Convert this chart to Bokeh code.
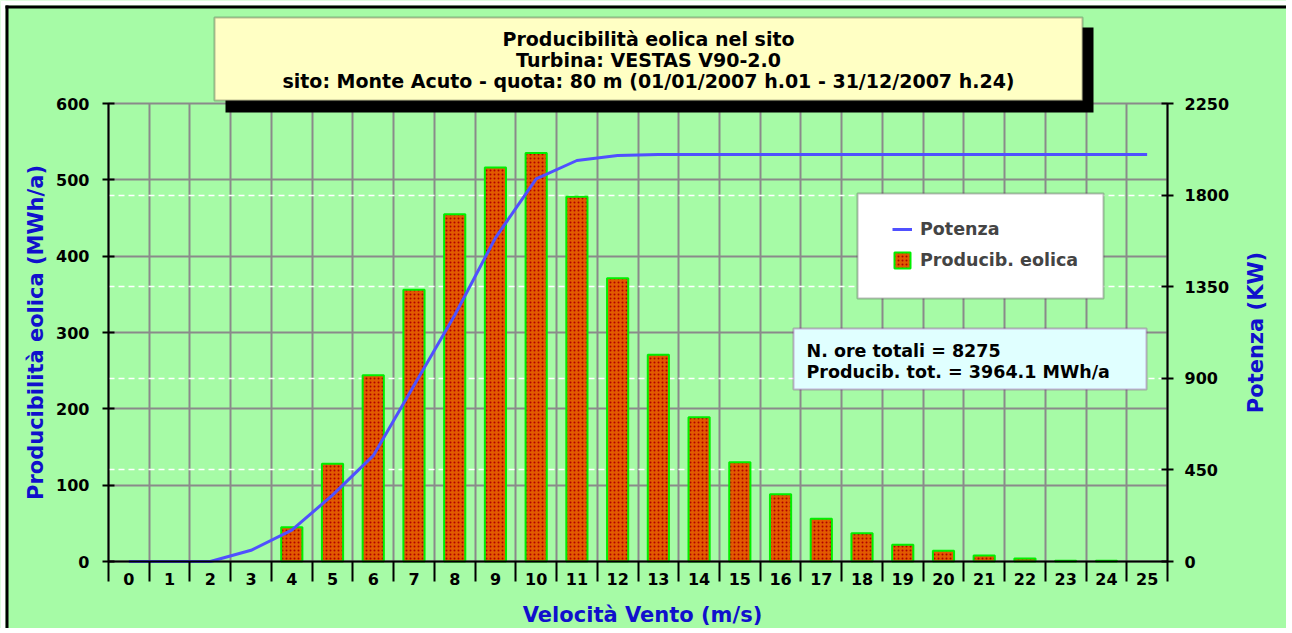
import math
from bokeh.plotting import figure
from bokeh.models import (Range1d, LinearAxis, FixedTicker, Grid, BoxAnnotation,
                          Label, Legend, LegendItem, ColumnDataSource)
from bokeh.embed import file_html
from bokeh.resources import INLINE

# ---------------- data ----------------
wind_speed = list(range(26))
energy_mwh = [0, 0, 0, 0, 45, 128, 244, 356, 455, 516, 535, 478, 371, 271, 189,
              130, 88, 56, 37, 22, 14, 8, 4, 1, 1, 0]
power_kw = [0, 0, 0, 55, 154, 326, 520, 865, 1210, 1590, 1880, 1970, 1994, 2000,
            2000, 2000, 2000, 2000, 2000, 2000, 2000, 2000, 2000, 2000, 2000, 2000]
left_ticks = [0, 100, 200, 300, 400, 500, 600]
right_ticks = [0, 450, 900, 1350, 1800, 2250]

title_lines = ["Producibilità eolica nel sito",
               "Turbina: VESTAS V90-2.0",
               "sito: Monte Acuto - quota: 80 m (01/01/2007 h.01 - 31/12/2007 h.24)"]
info_lines = ["N. ore totali = 8275", "Producib. tot. = 3964.1 MWh/a"]
x_label = "Velocità Vento (m/s)"
y_label = "Producibilità eolica (MWh/a)"
y2_label = "Potenza (KW)"
legend_labels = ["Potenza", "Producib. eolica"]

# ---------------- style / geometry ----------------
GREEN = "#a6fba6"
GRID = "#8a8a8a"
AXBLUE = "#1010cc"
LINEBLUE = "#5050ff"
FONT = "DejaVu Sans"

W, H = 1286, 628
PL, PR, PT, PB = 108, 1167, 103, 561          # plot area in page pixels
X0, X1 = -0.5, 25.5
Y0, Y1 = left_ticks[0], left_ticks[-1]
R1 = right_ticks[-1]
kx = (PR - PL) / (X1 - X0)
ky = (PB - PT) / (Y1 - Y0)

x_range = Range1d(X0 - PL / kx, X1 + (W - PR) / kx)
y_range = Range1d(Y0 - (H - PB) / ky, Y1 + PT / ky)
scale_r = R1 / (Y1 - Y0)
pow_range = Range1d(y_range.start * scale_r, y_range.end * scale_r)

p = figure(width=W, height=H, x_range=x_range, y_range=y_range,
           output_backend="svg", toolbar_location=None,
           min_border_left=0, min_border_right=0, min_border_top=0, min_border_bottom=0,
           background_fill_color=GREEN, border_fill_color=GREEN, outline_line_color=None)
p.extra_y_ranges = {"pow": pow_range}


def sx(px):
    return px


def sy(py):
    return H - py


def rect(l, t, r, b, fill, level="image", lc=None, lw=2):
    return BoxAnnotation(left=sx(l), right=sx(r), top=sy(t), bottom=sy(b),
                         left_units="screen", right_units="screen",
                         top_units="screen", bottom_units="screen",
                         fill_color=fill, fill_alpha=1, line_color=lc, line_width=lw,
                         level=level)


# white margin and black top/left frame line
p.add_layout(rect(0, 0, W, 5, "white"))
p.add_layout(rect(0, 0, 5, H, "white"))
p.add_layout(rect(5, 5, W, 8, "black"))
p.add_layout(rect(5, 5, 8, H, "black"))

# x axis: labels at integers, ticks/grid at bin boundaries
xt = FixedTicker(ticks=wind_speed,
                 minor_ticks=[w - 0.5 for w in wind_speed] + [wind_speed[-1] + 0.5])
ax = p.xaxis[0]
ax.ticker = xt
ax.fixed_location = Y0
ax.bounds = (X0, X1)
p.xgrid.ticker = xt
p.xgrid.grid_line_color = None
p.xgrid.minor_grid_line_color = GRID
p.xgrid.minor_grid_line_width = 2
p.xgrid.cross_bounds = (Y0, Y1)
ax.major_tick_line_color = None
ax.major_tick_out = 0
ax.major_tick_in = 0
ax.minor_tick_line_color = "black"
ax.minor_tick_line_width = 2
ax.minor_tick_out = 20
ax.minor_tick_in = 0
ax.major_label_standoff = -9

# left axis
yt = FixedTicker(ticks=left_ticks, minor_ticks=[])
ay = p.yaxis[0]
ay.ticker = yt
ay.fixed_location = X0
ay.bounds = (Y0, Y1)
p.ygrid.ticker = yt
p.ygrid.grid_line_color = GRID
p.ygrid.grid_line_width = 2
p.ygrid.cross_bounds = (X0, X1)
ay.major_tick_in = 6
ay.major_tick_out = 6
ay.major_label_standoff = 13

# right axis
rt = FixedTicker(ticks=right_ticks, minor_ticks=[])
ar = LinearAxis(y_range_name="pow", ticker=rt, fixed_location=X1, bounds=(0, R1))
ar.major_tick_in = 6
ar.major_tick_out = 6
ar.major_label_standoff = 11
p.add_layout(ar, "right")
g2 = Grid(dimension=1, y_range_name="pow", ticker=FixedTicker(ticks=right_ticks[1:-1]),
          grid_line_color="white", grid_line_dash="6 4", grid_line_width=1.5,
          cross_bounds=(X0, X1))
p.add_layout(g2)

for a in (ax, ay, ar):
    a.axis_line_color = "black"
    a.axis_line_width = 2
    a.major_tick_line_width = 2
    a.major_label_text_font = FONT
    a.major_label_text_font_style = "bold"
    a.major_label_text_font_size = "16px"
    a.major_label_text_color = "black"
ay.minor_tick_line_color = None
ar.minor_tick_line_color = None

# ---------------- glyphs ----------------
idx = [i for i, e in enumerate(energy_mwh) if e > 0]
bar_src = ColumnDataSource(dict(x=[wind_speed[i] for i in idx], top=[energy_mwh[i] for i in idx]))
bars = p.vbar(x="x", top="top", bottom=0, width=0.52, source=bar_src,
              fill_color="#e25a00", line_color="#00f000", line_width=2,
              hatch_pattern="dot", hatch_color="#b00000", hatch_scale=4, hatch_weight=1.5)
line = p.line(wind_speed, power_kw, y_range_name="pow", line_color=LINEBLUE, line_width=3)


# ---------------- annotations ----------------
def lab(text, px, py, size, align="center", color="black", angle=0.0):
    return Label(x=sx(px), y=sy(py), x_units="screen", y_units="screen", text=text,
                 text_align=align, text_baseline="middle", text_font=FONT, angle=angle,
                 text_font_style="bold", text_font_size=f"{size}px", text_color=color)


# axis titles
p.add_layout(lab(x_label, 642, 614, 21, color=AXBLUE))
p.add_layout(lab(y_label, 35, 332, 21, color=AXBLUE, angle=math.pi / 2))
p.add_layout(lab(y2_label, 1255, 332, 21, color=AXBLUE, angle=math.pi / 2))

# title box with shadow
p.add_layout(rect(225, 27, 1093, 112, "black", level="annotation"))
p.add_layout(rect(214, 17, 1082, 100, "#ffffc4", level="annotation", lc="#222222"))
for t, yy in zip(title_lines, [38, 59, 80]):
    p.add_layout(lab(t, 648, yy, 19))

# legend
p.add_layout(rect(857, 193, 1103, 298, "white", level="annotation", lc="#222222"))
legend = Legend(items=[LegendItem(label=legend_labels[0], renderers=[line]),
                       LegendItem(label=legend_labels[1], renderers=[bars])],
                location=(sx(892), sy(270)), background_fill_alpha=0, border_line_color=None,
                padding=0, margin=0, spacing=11, glyph_height=20, glyph_width=20,
                label_standoff=8, label_text_font=FONT, label_text_font_style="bold",
                label_text_font_size="17.5px", label_height=20)
p.add_layout(legend)

# info box
p.add_layout(rect(793, 328, 1146, 389, "#e0ffff", level="annotation", lc="#800080"))
for t, yy in zip(info_lines, [350, 371]):
    p.add_layout(lab(t, 806, yy, 17.5, align="left"))

open("out.html", "w").write(file_html(p, INLINE))
